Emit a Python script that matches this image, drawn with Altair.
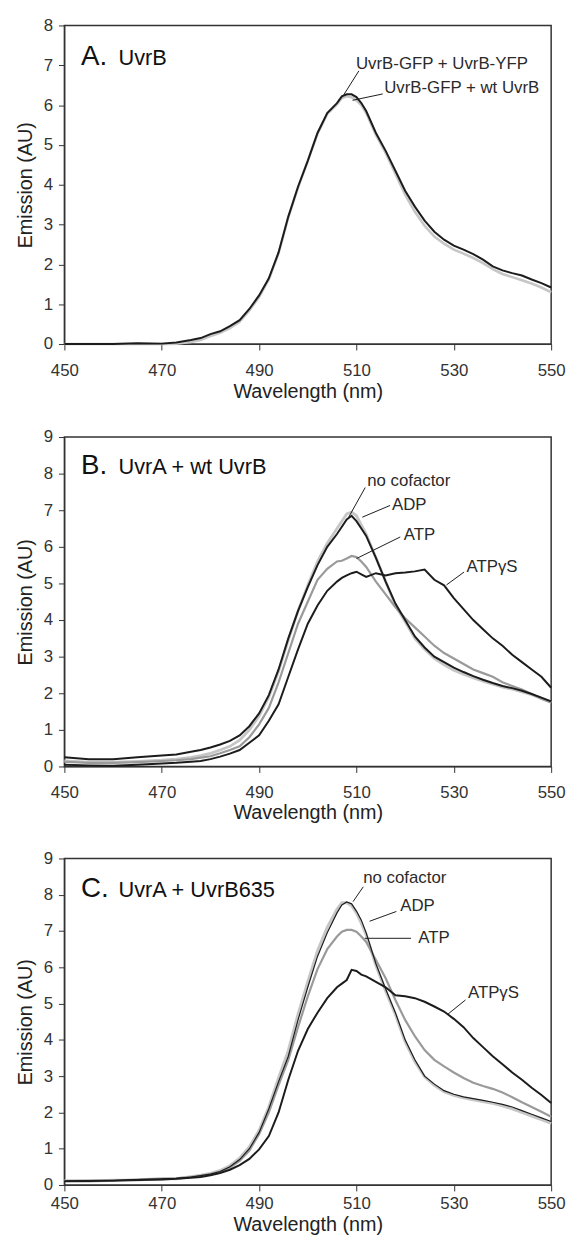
import altair as alt
import pandas as pd

FONT = "Liberation Sans"
DARK = "#1c1c1c"
LIGHT = "#c6c6c6"
MID = "#9a9a9a"
TXT = "#2a2a2a"

# ---------------- data ----------------
wl = [450, 455, 460, 465, 470, 473, 476, 478, 480, 482, 484, 486, 488, 490, 492, 494,
      496, 498, 500, 502, 504, 506, 507, 508, 509, 510, 511, 512, 514, 516, 518, 520,
      522, 524, 526, 528, 530, 532, 534, 536, 538, 540, 542, 544, 546, 548, 550]

# Panel A
a_yfp = [0, 0, 0, 0.02, 0.01, 0.04, 0.1, 0.15, 0.25, 0.32, 0.45, 0.6, 0.88, 1.22, 1.65, 2.3,
         3.2, 3.95, 4.6, 5.3, 5.8, 6.05, 6.22, 6.27, 6.27, 6.2, 6.05, 5.85, 5.3, 4.85, 4.35, 3.85,
         3.45, 3.1, 2.82, 2.62, 2.47, 2.37, 2.26, 2.12, 1.95, 1.85, 1.78, 1.72, 1.62, 1.53, 1.42]
a_wt = [0, 0, 0, 0, 0, 0.01, 0.05, 0.1, 0.2, 0.28, 0.4, 0.56, 0.84, 1.18, 1.62, 2.28,
        3.18, 3.93, 4.6, 5.28, 5.78, 6.02, 6.18, 6.22, 6.2, 6.12, 6.0, 5.8, 5.25, 4.8, 4.28, 3.75,
        3.32, 2.97, 2.7, 2.52, 2.37, 2.27, 2.16, 2.03, 1.88, 1.76, 1.68, 1.6, 1.52, 1.42, 1.3]

# Panel B
b_none = [0.25, 0.2, 0.2, 0.25, 0.3, 0.33, 0.4, 0.45, 0.52, 0.6, 0.7, 0.85, 1.1, 1.45, 1.95, 2.65,
          3.5, 4.25, 4.9, 5.5, 6.0, 6.35, 6.55, 6.75, 6.85, 6.7, 6.5, 6.3, 5.7, 5.05, 4.45, 4.0,
          3.55, 3.25, 3.0, 2.85, 2.7, 2.58, 2.47, 2.37, 2.28, 2.2, 2.14, 2.07, 1.98, 1.88, 1.78]
b_adp = [0.15, 0.12, 0.12, 0.14, 0.17, 0.2, 0.25, 0.3, 0.36, 0.45, 0.55, 0.72, 1.0, 1.38, 1.9, 2.6,
         3.45, 4.25, 4.95, 5.6, 6.1, 6.5, 6.7, 6.9, 6.95, 6.85, 6.6, 6.35, 5.7, 5.05, 4.4, 3.95,
         3.5, 3.2, 2.95, 2.78, 2.63, 2.52, 2.42, 2.33, 2.25, 2.17, 2.11, 2.04, 1.96, 1.86, 1.75]
b_atp = [0.13, 0.1, 0.1, 0.12, 0.15, 0.17, 0.2, 0.24, 0.28, 0.36, 0.45, 0.55, 0.8, 1.15, 1.6, 2.3,
         3.1, 3.9, 4.5, 5.1, 5.4, 5.6, 5.62, 5.68, 5.75, 5.72, 5.6, 5.45, 5.05, 4.7, 4.35, 4.05,
         3.8, 3.55, 3.3, 3.1, 2.95, 2.8, 2.65, 2.55, 2.45, 2.3, 2.2, 2.1, 1.98, 1.85, 1.75]
b_atpgs = [0.05, 0.03, 0.02, 0.05, 0.08, 0.1, 0.13, 0.15, 0.2, 0.27, 0.35, 0.45, 0.65, 0.85, 1.25, 1.7,
           2.45, 3.2, 3.9, 4.4, 4.8, 5.05, 5.15, 5.22, 5.28, 5.32, 5.25, 5.18, 5.28, 5.22, 5.28, 5.3,
           5.33, 5.38, 5.1, 4.95, 4.6, 4.3, 4.0, 3.75, 3.5, 3.3, 3.05, 2.85, 2.65, 2.45, 2.15]

# Panel C
c_none = [0.1, 0.12, 0.12, 0.15, 0.17, 0.18, 0.22, 0.26, 0.3, 0.37, 0.5, 0.7, 1.0, 1.45, 2.1, 2.85,
          3.55, 4.55, 5.45, 6.3, 6.95, 7.5, 7.72, 7.8, 7.75, 7.55, 7.3, 6.95, 6.1, 5.4, 4.75, 4.0,
          3.45, 3.0, 2.78, 2.6, 2.5, 2.43, 2.38, 2.33, 2.28, 2.22, 2.15, 2.05, 1.95, 1.85, 1.75]
c_adp = [0.12, 0.1, 0.13, 0.14, 0.18, 0.17, 0.23, 0.27, 0.32, 0.4, 0.53, 0.74, 1.05, 1.5, 2.15, 2.95,
         3.7, 4.7, 5.6, 6.45, 7.1, 7.6, 7.78, 7.78, 7.7, 7.5, 7.22, 6.9, 6.05, 5.35, 4.7, 3.95,
         3.4, 2.98, 2.75, 2.57, 2.47, 2.4, 2.35, 2.3, 2.25, 2.18, 2.1, 2.0, 1.9, 1.8, 1.7]
c_atp = [0.11, 0.12, 0.12, 0.15, 0.16, 0.18, 0.22, 0.25, 0.3, 0.36, 0.48, 0.66, 0.95, 1.4, 2.0, 2.75,
         3.45, 4.35, 5.2, 5.95, 6.5, 6.85, 6.98, 7.03, 7.03, 6.98, 6.85, 6.7, 6.2, 5.7, 5.1, 4.55,
         4.1, 3.72, 3.45, 3.27, 3.1, 2.95, 2.82, 2.73, 2.65, 2.55, 2.42, 2.28, 2.15, 2.02, 1.88]
c_atpgs = [0.1, 0.11, 0.12, 0.14, 0.15, 0.17, 0.2, 0.22, 0.27, 0.33, 0.42, 0.55, 0.72, 0.98, 1.35, 2.0,
           2.9, 3.7, 4.3, 4.75, 5.15, 5.45, 5.55, 5.65, 5.93, 5.9, 5.8, 5.75, 5.6, 5.45, 5.23, 5.2,
           5.15, 5.05, 4.92, 4.78, 4.58, 4.35, 4.05, 3.8, 3.55, 3.33, 3.1, 2.9, 2.68, 2.48, 2.26]

x_ticks = [450, 470, 490, 510, 530, 550]

# annotation texts: label, x (nm), y (AU)
a_notes = [("UvrB-GFP + UvrB-YFP", 509.9, 7.02), ("UvrB-GFP + wt UvrB", 515.7, 6.43)]
a_leaders = [(510.5, 6.86, 507.4, 6.26), (515.4, 6.28, 509.2, 6.12)]
b_notes = [("no cofactor", 512.2, 7.8), ("ADP", 517.3, 7.13), ("ATP", 519.7, 6.33), ("ATPγS", 532.6, 5.46)]
b_leaders = [(511.8, 7.62, 508.4, 6.81), (516.9, 7.13, 511.2, 6.81), (519.0, 6.27, 510.0, 5.68), (532.1, 5.31, 528.5, 4.96)]
c_notes = [("no cofactor", 511.4, 8.45), ("ADP", 519.0, 7.68), ("ATP", 522.7, 6.82), ("ATPγS", 532.9, 5.28)]
c_leaders = [(511.4, 8.22, 509.3, 7.81), (518.2, 7.54, 512.7, 7.27), (521.2, 6.80, 511.7, 6.80), (532.4, 5.10, 528.7, 4.70)]

panel_tags = {"A": ("A.", "UvrB", 7.0), "B": ("B.", "UvrA + wt UvrB", 7.98), "C": ("C.", "UvrA + UvrB635", 7.93)}


def panel(series, ymax, height, notes, leaders, tag, lab_pad, tit_pad):
    xs = alt.Scale(domain=[450, 550], nice=False, zero=False)
    ys = alt.Scale(domain=[0, ymax], nice=False)
    xax = alt.Axis(values=x_ticks, title="Wavelength (nm)", labelPadding=lab_pad,
                   titlePadding=tit_pad, labelFlush=False)
    yax = alt.Axis(values=list(range(0, ymax + 1)), title="Emission (AU)", labelFlush=False)

    def X(f):
        return alt.X(f, type="quantitative", scale=xs, axis=xax)

    def Y(f):
        return alt.Y(f, type="quantitative", scale=ys, axis=yax)

    layers = []
    for vals, color, sw in series:
        df = pd.DataFrame({"wl": wl, "val": vals})
        layers.append(alt.Chart(df).mark_line(color=color, strokeWidth=sw).encode(x=X("wl"), y=Y("val")))

    ldf = pd.DataFrame(leaders, columns=["x", "y", "x2", "y2"])
    layers.append(alt.Chart(ldf).mark_rule(color=DARK, strokeWidth=1).encode(
        x=X("x"), y=Y("y"), x2="x2", y2="y2"))

    ndf = pd.DataFrame(notes, columns=["label", "x", "y"])
    layers.append(alt.Chart(ndf).mark_text(align="left", baseline="middle", font=FONT,
                                          fontSize=17, color=TXT).encode(
        x=X("x"), y=Y("y"), text="label"))

    big, small, yb = panel_tags[tag]
    tdf1 = pd.DataFrame({"label": [big], "x": [453.4], "y": [yb]})
    tdf2 = pd.DataFrame({"label": [small], "x": [461.1], "y": [yb]})
    layers.append(alt.Chart(tdf1).mark_text(align="left", baseline="alphabetic", font=FONT,
                                           fontSize=28, color="#111").encode(
        x=X("x"), y=Y("y"), text="label"))
    layers.append(alt.Chart(tdf2).mark_text(align="left", baseline="alphabetic", font=FONT,
                                           fontSize=22, color="#111").encode(
        x=X("x"), y=Y("y"), text="label"))

    return alt.layer(*layers).properties(width=492, height=height)


pa = panel([(a_wt, LIGHT, 2.6), (a_yfp, DARK, 2.0)], 8, 322, a_notes, a_leaders, "A", 13, 3)
pb = panel([(b_adp, LIGHT, 2.8), (b_atp, MID, 2.2), (b_none, DARK, 2.0), (b_atpgs, DARK, 2.0)],
           9, 333, b_notes, b_leaders, "B", 12, 3)
pc = panel([(c_adp, LIGHT, 3.0), (c_atp, MID, 2.2), (c_none, DARK, 1.2), (c_atpgs, DARK, 2.0)],
           9, 330, c_notes, c_leaders, "C", 5, 3)

chart = alt.vconcat(pa, pb, pc, spacing=25).properties(
    padding={"left": 6, "top": 1, "right": 0, "bottom": 0},
    background="white",
).configure_axis(
    labelFont=FONT, labelFontSize=17, labelColor="#333",
    titleFont=FONT, titleFontSize=20, titleFontWeight="normal", titleColor="#222",
    tickColor="#333", domainColor="#333", tickSize=6, grid=False,
).configure_axisY(
    labelPadding=6, titlePadding=8
).configure_view(stroke="#333", strokeWidth=1.5)

chart.save("out.html", embed_options={"renderer": "svg", "actions": False})
